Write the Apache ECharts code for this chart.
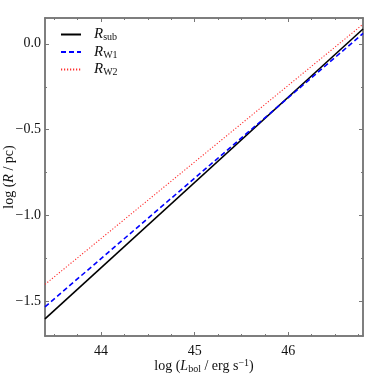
<!DOCTYPE html>
<html>
<head>
<meta charset="utf-8">
<script src="https://cdn.jsdelivr.net/npm/echarts@6/dist/echarts.min.js"></script>
<style>
  html, body { margin: 0; padding: 0; background: #fff; }
  #main { width: 374px; height: 374px; }
</style>
</head>
<body>
<div id="main"></div>
<script>
// log L_bol endpoints and log R values
var logL = [43.4, 46.8];
var rSub = [-1.60, 0.086];
var rW1 = [-1.53, 0.06];
var rW2 = [-1.40, 0.114];

var xMajor = [44, 45, 46];
var xMinor = [43.5, 43.75, 44.25, 44.5, 44.75, 45.25, 45.5, 45.75, 46.25, 46.5, 46.75];
var yMajor = [-1.5, -1.0, -0.5, 0.0];
var yMinor = [-1.25, -0.75, -0.25];

var font = '"Liberation Serif", "DejaVu Serif", serif';
var rich = {
  n: { fontFamily: font, fontSize: 14, color: '#111' },
  i: { fontFamily: font, fontSize: 14, fontStyle: 'italic', color: '#111' },
  li: { fontFamily: font, fontSize: 15, fontStyle: 'italic', color: '#111', padding: [0, 0, 0, 8] },
  s: { fontFamily: font, fontSize: 10, color: '#111', padding: [6, 0, 0, 0] },
  p: { fontFamily: font, fontSize: 10, color: '#111', padding: [0, 0, 7, 0] }
};

function pairs(xs, ys) {
  return xs.map(function (x, k) { return [x, ys[k]]; });
}

var chartDom = document.getElementById('main');
var myChart = echarts.init(chartDom);

function xAx(pos, ticks, len, labels) {
  return {
    type: 'value', min: 43.4, max: 46.8, position: pos,
    axisLine: { show: true, onZero: false, lineStyle: { color: '#777', width: 1.5 } },
    axisTick: { show: true, inside: true, length: len, customValues: ticks, lineStyle: { color: '#777' } },
    axisLabel: labels ? {
      show: true, customValues: ticks, margin: 8,
      fontFamily: font, fontSize: 14, color: '#111'
    } : { show: false },
    splitLine: { show: false }
  };
}
function yAx(pos, ticks, len, labels) {
  return {
    type: 'value', min: -1.7, max: 0.15, position: pos,
    axisLine: { show: true, onZero: false, lineStyle: { color: '#777', width: 1.5 } },
    axisTick: { show: true, inside: true, length: len, customValues: ticks, lineStyle: { color: '#777' } },
    axisLabel: labels ? {
      show: true, customValues: ticks, margin: 4,
      fontFamily: font, fontSize: 14, color: '#111',
      formatter: function (v) { return v.toFixed(1).replace('-', '\u2212'); }
    } : { show: false },
    splitLine: { show: false }
  };
}

var xMain = xAx('bottom', xMajor, 4, true);
xMain.name = '{n|log (}{i|L}{s|bol}{n| / erg s}{p|\u22121}{n|)}';
xMain.nameLocation = 'middle';
xMain.nameGap = 22;
xMain.nameMoveOverlap = false;
xMain.nameTextStyle = { rich: rich };

var yMain = yAx('left', yMajor, 4, true);
yMain.name = '{n|log (}{i|R}{n| / pc)}';
yMain.nameLocation = 'middle';
yMain.nameGap = 29;
yMain.nameRotate = 90;
yMain.nameMoveOverlap = false;
yMain.nameTextStyle = { rich: rich };

var option = {
  animation: false,
  grid: { left: 45, right: 11, top: 18, bottom: 38, containLabel: false, outerBoundsMode: 'none' },
  xAxis: [
    xMain,
    xAx('bottom', xMinor, 2, false),
    xAx('top', xMajor, 4, false),
    xAx('top', xMinor, 2, false)
  ],
  yAxis: [
    yMain,
    yAx('left', yMinor, 2, false),
    yAx('right', yMajor, 4, false),
    yAx('right', yMinor, 2, false)
  ],
  legend: {
    orient: 'vertical', left: 55, top: 22,
    itemWidth: 20, itemHeight: 12, itemGap: 2,
    itemStyle: { opacity: 0 },
    textStyle: { rich: rich },
    formatter: function (name) {
      if (name === 'sub') return '{li|R}{s|sub}';
      if (name === 'W1') return '{li|R}{s|W1}';
      return '{li|R}{s|W2}';
    },
    data: ['sub', 'W1', 'W2']
  },
  series: [
    {
      name: 'sub', type: 'line', data: pairs(logL, rSub), symbol: 'none',
      lineStyle: { color: '#000', width: 1.6 }, itemStyle: { color: '#000' }
    },
    {
      name: 'W1', type: 'line', data: pairs(logL, rW1), symbol: 'none',
      lineStyle: { color: '#0000ff', width: 1.6, type: [5, 3] }, itemStyle: { color: '#0000ff' }
    },
    {
      name: 'W2', type: 'line', data: pairs(logL, rW2), symbol: 'none',
      lineStyle: { color: '#ff3030', width: 1.1, type: [1.2, 1.8] }, itemStyle: { color: '#ff3030' }
    }
  ]
};

option && myChart.setOption(option);
</script>
</body>
</html>
